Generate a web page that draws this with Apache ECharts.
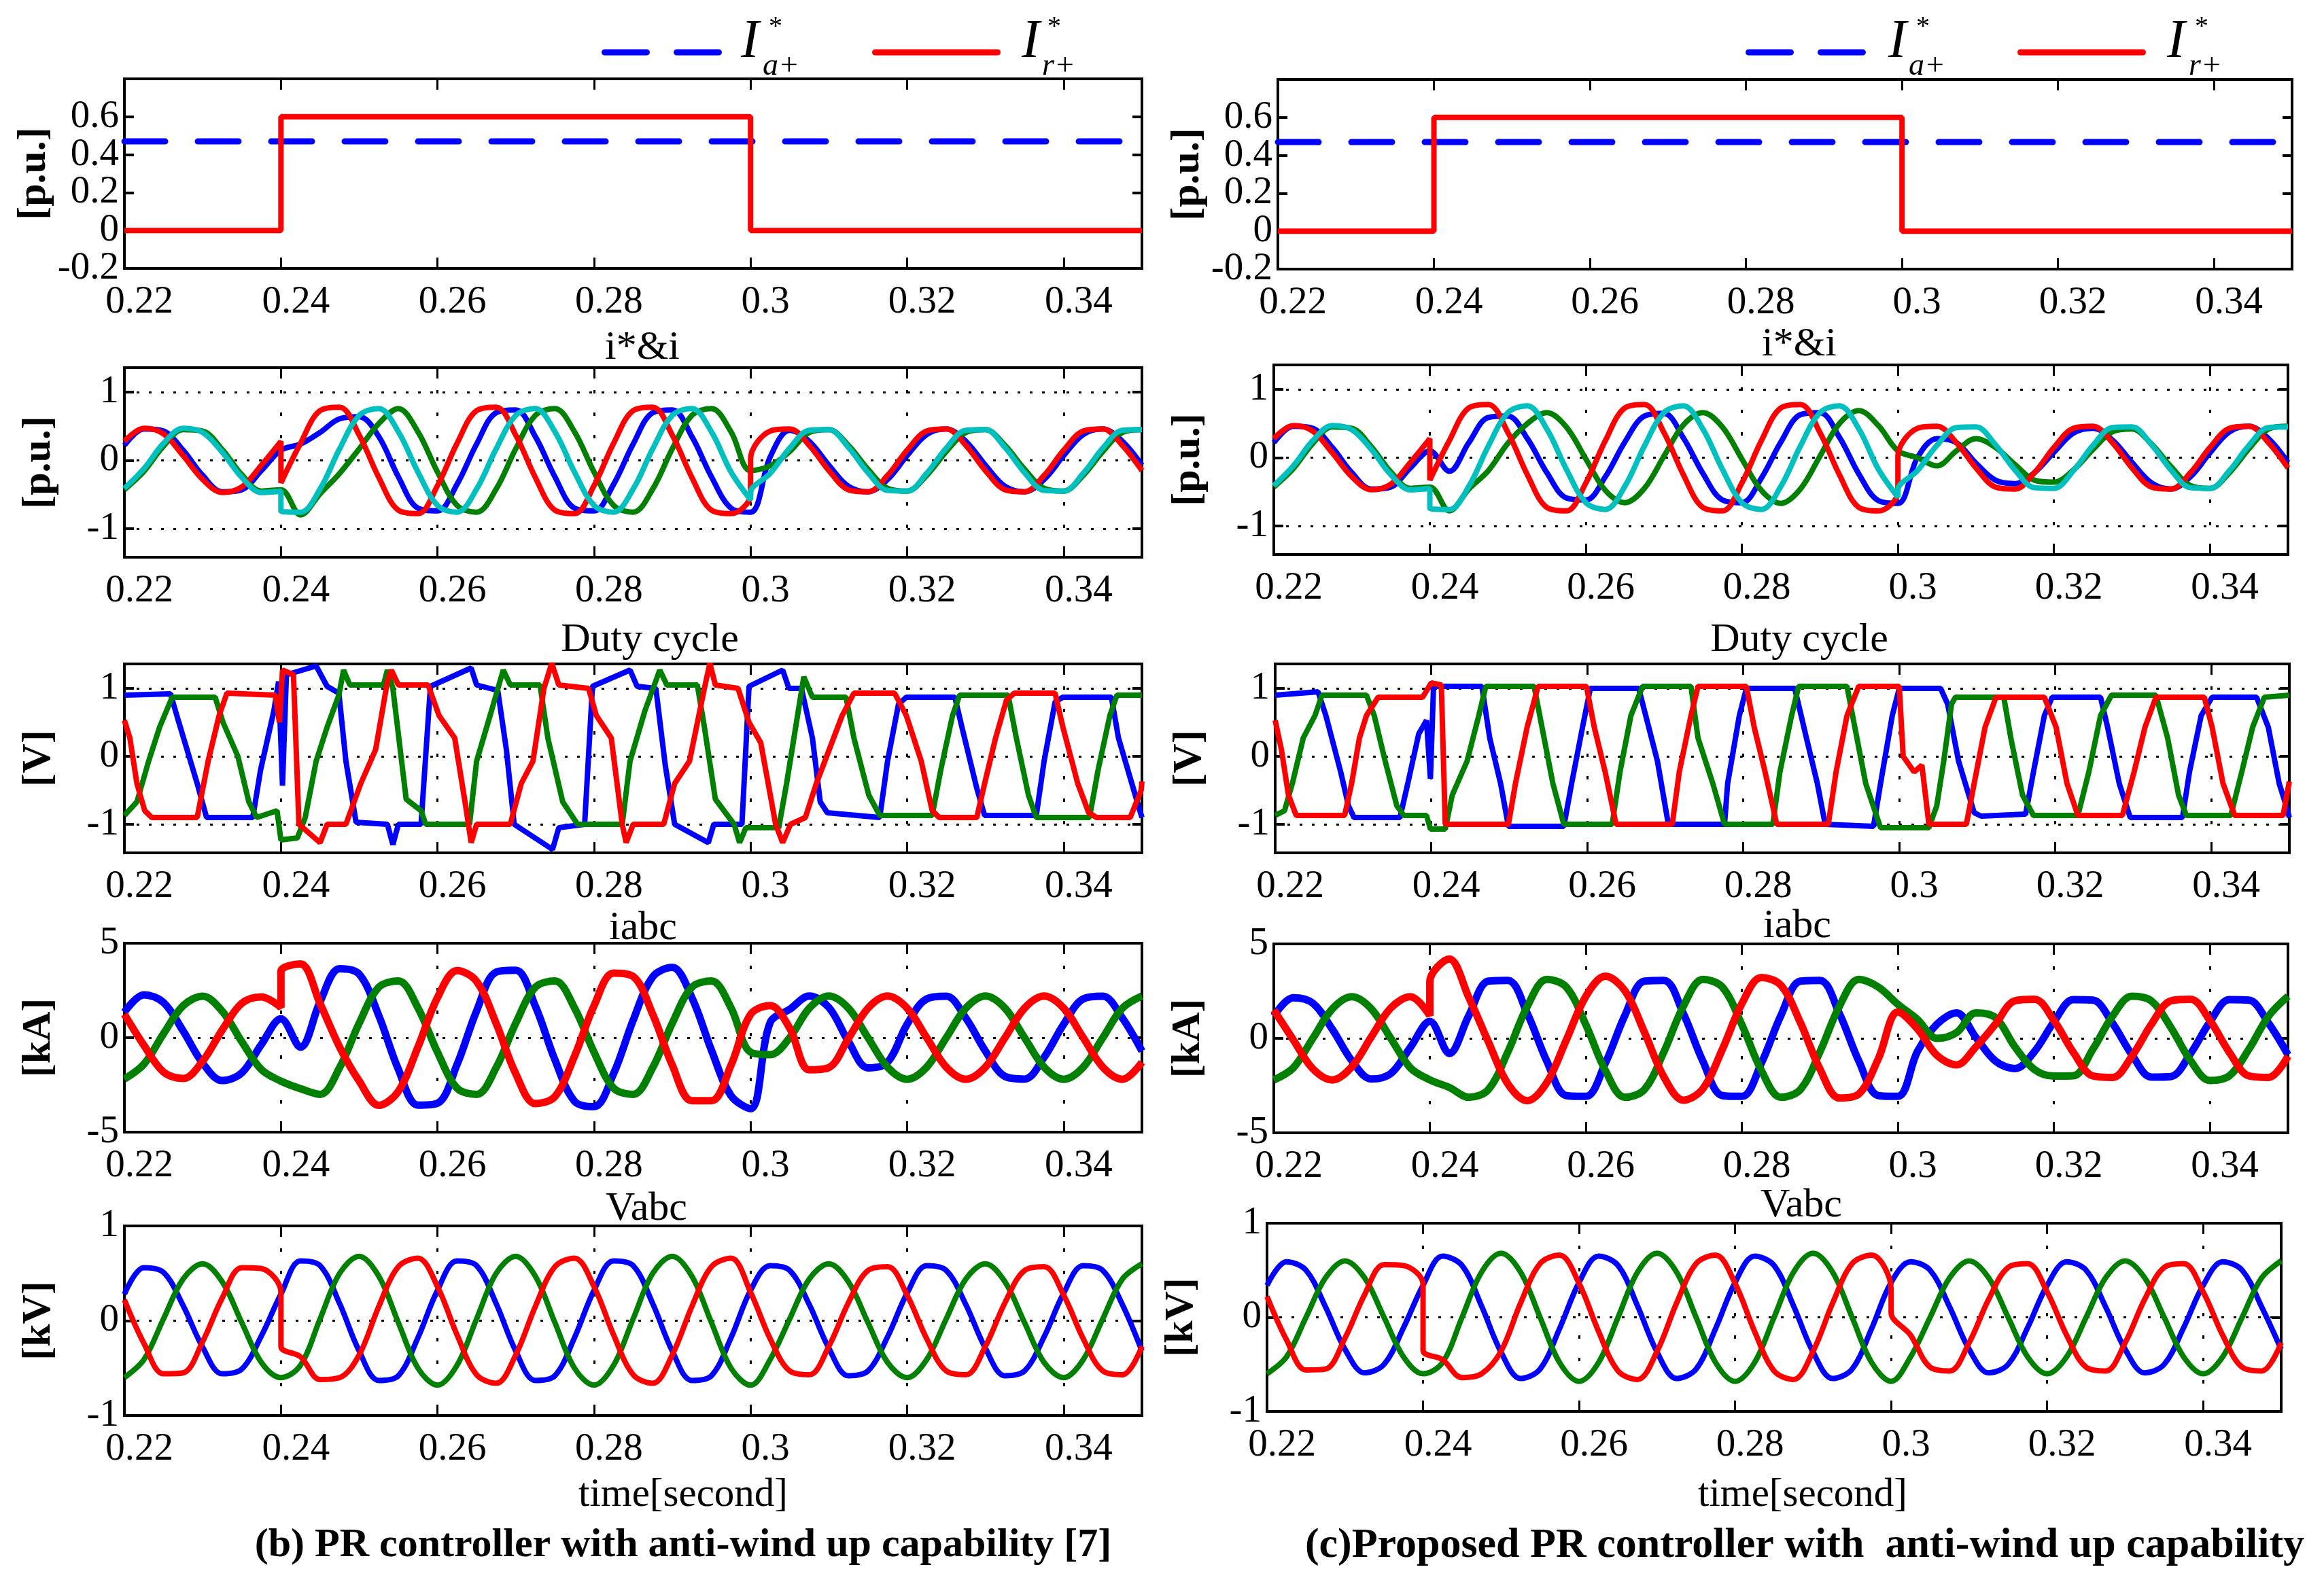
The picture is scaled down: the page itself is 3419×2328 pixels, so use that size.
<!DOCTYPE html>
<html lang="en">
<head>
<meta charset="UTF-8">
<title>PR controller with anti-wind up capability</title>
<script src="https://cdn.jsdelivr.net/npm/echarts@6/dist/echarts.min.js"></script>
<style>
    *{margin:0;padding:0;}
    html,body{width:100%;height:100%;background:#fff;}
    #main{width:3419px;height:2328px;}
</style>
</head>
<body>
<div id="main"></div>
<script>
// common time base (s), 0.24 and 0.30 appear twice for the step changes
var T = [0.22,0.2225,0.225,0.2275,0.23,0.2325,0.235,0.2375,0.24,
    0.24,
    0.2425,0.245,0.2475,0.25,0.2525,0.255,0.2575,0.26,0.2625,0.265,0.2675,0.27,
    0.2725,0.275,0.2775,0.28,0.2825,0.285,0.2875,0.29,0.2925,0.295,0.2975,0.3,
    0.3,
    0.3025,0.305,0.3075,0.31,0.3125,0.315,0.3175,0.32,0.3225,0.325,
    0.3275,0.33,0.3325,0.335,0.3375,0.34,0.3425,0.345,0.3475,0.35];

// references I*a+ / I*r+
var stepT = [0.22,0.24,0.24,0.30,0.30,0.35];
var iaStar = [0.47,0.47,0.47,0.47,0.47,0.47];
var irStar = [0,0,0.6,0.6,0,0];

// i*&i  (references shared by both controllers)
var iRefA = [0.28,0.47,0.39,0.07,-0.28,-0.47,-0.39,-0.07,0.28,
    -0.33,
    0.25,0.73,0.78,0.37,-0.25,-0.73,-0.78,-0.37,
    0.25,0.73,0.78,0.37,-0.25,-0.73,-0.78,-0.37,
    0.25,0.73,0.78,0.37,-0.25,-0.73,-0.78,-0.5,
    0.02,
    0.43,0.46,0.22,-0.15,-0.43,-0.46,-0.22,0.15,0.43,0.46,
    0.22,-0.15,-0.43,-0.46,-0.22,0.15,0.43,0.46,0.22,-0.15];
var iRefB = [-0.41,-0.12,0.25,0.47,0.41,0.12,-0.25,-0.47,-0.45,
    -0.74,
    -0.76,-0.42,0.17,0.66,0.76,0.42,-0.17,-0.66,
    -0.76,-0.42,0.17,0.66,0.76,0.42,-0.17,-0.66,
    -0.76,-0.42,0.17,0.66,0.76,0.42,-0.17,-0.58,
    -0.47,
    -0.19,0.18,0.44,0.45,0.19,-0.18,-0.44,-0.45,-0.19,0.18,
    0.44,0.45,0.19,-0.18,-0.44,-0.45,-0.19,0.18,0.44,0.45];
var iMeasA_b = [0.22,0.46,0.43,0.15,-0.22,-0.46,-0.43,-0.15,0.15,
    0.15,
    0.24,0.41,0.61,0.64,0.35,-0.24,-0.70,-0.74,
    -0.35,0.24,0.70,0.74,0.35,-0.24,-0.70,-0.74,
    -0.35,0.24,0.70,0.74,0.35,-0.24,-0.70,-0.76,
    -0.76,
    0.05,0.44,0.28,-0.07,-0.38,-0.46,-0.28,0.07,0.38,0.46,
    0.28,-0.07,-0.38,-0.46,-0.28,0.07,0.38,0.46,0.28,-0.07];
var iMeasB_b = [-0.43,-0.16,0.21,0.45,0.43,0.16,-0.21,-0.45,-0.43,
    -0.43,
    -0.80,-0.49,-0.19,0.17,0.54,0.76,0.42,-0.17,
    -0.66,-0.76,-0.42,0.17,0.66,0.76,0.42,-0.17,
    -0.66,-0.76,-0.42,0.17,0.66,0.76,0.42,-0.15,
    -0.15,
    -0.08,0.13,0.41,0.45,0.22,-0.13,-0.41,-0.45,-0.22,0.13,
    0.41,0.45,0.22,-0.13,-0.41,-0.45,-0.22,0.13,0.41,0.45];
var iMeasA_c = [0.22,0.46,0.43,0.15,-0.22,-0.46,-0.43,-0.15,0.1,
    0.1,
    -0.2,0.22,0.59,0.61,0.28,-0.22,-0.59,-0.62,
    -0.28,0.23,0.61,0.65,0.29,-0.23,-0.62,-0.66,
    -0.30,0.23,0.63,0.66,0.30,-0.24,-0.63,-0.67,
    -0.67,
    0.0,0.28,0.22,-0.08,-0.33,-0.38,-0.22,0.08,0.36,0.43,
    0.26,-0.07,-0.37,-0.46,-0.28,0.07,0.38,0.46,0.28,-0.07];
var iMeasB_c = [-0.43,-0.16,0.21,0.45,0.43,0.16,-0.21,-0.45,-0.43,
    -0.43,
    -0.78,-0.46,-0.19,0.21,0.50,0.66,0.45,-0.02,
    -0.48,-0.66,-0.45,0.02,0.48,0.66,0.45,-0.02,
    -0.48,-0.67,-0.46,0.02,0.50,0.69,0.47,0.1,
    0.1,
    0.0,-0.12,0.1,0.28,0.15,-0.1,-0.33,-0.36,-0.18,0.12,
    0.38,0.42,0.2,-0.13,-0.41,-0.45,-0.22,0.13,0.42,0.46];

// duty cycle, [t, value] corner points
var dBlueB = [[0.22,0.9],[0.2259,0.92],[0.2267,0.6],[0.2293,-0.4],[0.2305,-0.9],[0.2364,-0.9],[0.2374,-0.2],[0.2391,0.67],[0.2397,1.1],[0.2402,-0.43],[0.2407,1.2],[0.2445,1.33],[0.2459,1.03],[0.2474,0.93],[0.2483,-0.07],[0.2496,-0.97],[0.2536,-1.0],[0.2543,-1.3],[0.255,-1.0],[0.2579,-1.0],[0.2591,1.03],[0.2643,1.3],[0.265,1.05],[0.2677,0.97],[0.2688,0.1],[0.2698,-1.0],[0.2747,-1.37],[0.2755,-1.05],[0.2788,-1.0],[0.2798,1.03],[0.2846,1.27],[0.2855,1.03],[0.2879,1.0],[0.2891,-0.13],[0.2903,-1.0],[0.2946,-1.27],[0.2953,-1.0],[0.2989,-1.0],[0.2998,1.03],[0.3041,1.27],[0.3049,1.0],[0.3065,1.0],[0.3079,0.27],[0.3089,-0.67],[0.3098,-0.83],[0.3165,-0.9],[0.3175,-0.07],[0.3189,0.77],[0.3199,0.87],[0.3261,0.87],[0.327,0.43],[0.3289,-0.47],[0.3299,-0.87],[0.3365,-0.87],[0.3375,-0.07],[0.3389,0.8],[0.3399,0.87],[0.3461,0.87],[0.347,0.27],[0.3494,-0.67],[0.35,-0.9]];
var dGreenB = [[0.22,-0.87],[0.2216,-0.67],[0.2231,-0.07],[0.2245,0.43],[0.2261,0.87],[0.2316,0.87],[0.2326,0.5],[0.2345,0.0],[0.2359,-0.67],[0.2369,-0.9],[0.2395,-0.8],[0.24,-1.23],[0.2421,-1.2],[0.2431,-0.9],[0.2445,-0.07],[0.2459,0.43],[0.2474,0.9],[0.248,1.27],[0.2488,1.05],[0.2531,1.05],[0.2536,1.27],[0.2543,1.0],[0.256,-0.63],[0.2579,-0.8],[0.2585,-1.0],[0.2641,-1.0],[0.265,-0.07],[0.2669,0.67],[0.2684,1.27],[0.2693,1.05],[0.2731,1.05],[0.2741,0.27],[0.276,-0.67],[0.2779,-1.0],[0.2836,-1.0],[0.2846,-0.07],[0.2865,0.67],[0.2884,1.27],[0.2893,1.05],[0.2932,1.05],[0.2941,0.43],[0.2955,-0.63],[0.2979,-1.0],[0.2986,-1.27],[0.2994,-1.05],[0.3036,-1.05],[0.3046,-0.4],[0.306,0.6],[0.3068,1.17],[0.3079,0.87],[0.3122,0.87],[0.3132,0.27],[0.3151,-0.57],[0.3165,-0.87],[0.3232,-0.87],[0.3243,-0.2],[0.3258,0.6],[0.3267,0.9],[0.3329,0.9],[0.3339,0.3],[0.3355,-0.57],[0.3365,-0.9],[0.3433,-0.9],[0.3444,-0.2],[0.3459,0.6],[0.3468,0.9],[0.35,0.9]];
var dRedB = [[0.22,0.53],[0.2207,0.27],[0.2216,-0.4],[0.2226,-0.8],[0.2235,-0.9],[0.2293,-0.9],[0.2307,-0.07],[0.2321,0.6],[0.2331,0.93],[0.2393,0.9],[0.2398,0.5],[0.2402,1.27],[0.2416,1.2],[0.2423,-1.0],[0.245,-1.27],[0.2459,-1.0],[0.2483,-1.0],[0.2502,-0.4],[0.2521,0.1],[0.2536,1.1],[0.2541,1.27],[0.255,1.05],[0.2588,1.05],[0.2602,0.6],[0.2622,0.27],[0.2636,-0.73],[0.2643,-1.27],[0.265,-1.0],[0.2693,-1.0],[0.2707,-0.4],[0.2722,-0.07],[0.2736,1.0],[0.2746,1.37],[0.2755,1.05],[0.2793,1.0],[0.2803,0.6],[0.2822,0.27],[0.2836,-1.0],[0.2841,-1.27],[0.285,-1.0],[0.2889,-1.0],[0.2903,-0.4],[0.2922,-0.07],[0.2941,1.0],[0.2948,1.37],[0.2955,1.05],[0.2984,1.0],[0.2998,0.5],[0.3013,0.2],[0.3032,-1.0],[0.3041,-1.27],[0.3051,-1.0],[0.307,-0.9],[0.3084,-0.4],[0.3117,0.6],[0.3132,0.93],[0.3184,0.93],[0.3199,0.6],[0.3218,-0.07],[0.3232,-0.8],[0.3241,-0.9],[0.3289,-0.9],[0.3299,-0.4],[0.3313,0.27],[0.3327,0.83],[0.3337,0.93],[0.3389,0.93],[0.3399,0.43],[0.3418,-0.4],[0.3432,-0.83],[0.3442,-0.9],[0.3485,-0.9],[0.3499,-0.5],[0.35,-0.37]];
var dBlueC = [[0.22,0.9],[0.2255,0.95],[0.2265,0.6],[0.2284,-0.23],[0.2294,-0.73],[0.2301,-0.9],[0.236,-0.9],[0.237,-0.4],[0.2384,0.33],[0.2394,0.53],[0.2399,-0.33],[0.2403,1.03],[0.2465,1.03],[0.2475,0.27],[0.2489,-0.4],[0.2499,-1.03],[0.257,-1.03],[0.258,-0.4],[0.2594,0.43],[0.2604,1.0],[0.2666,1.0],[0.2675,0.6],[0.269,-0.07],[0.2704,-1.0],[0.2776,-1.0],[0.278,-0.4],[0.2795,0.6],[0.2804,1.0],[0.2866,1.0],[0.2881,0.27],[0.2895,-0.4],[0.2905,-1.0],[0.2967,-1.03],[0.2976,-0.4],[0.2991,0.6],[0.30,1.0],[0.3053,1.0],[0.3062,0.77],[0.3076,-0.07],[0.3096,-0.83],[0.3105,-0.88],[0.3162,-0.85],[0.3172,-0.23],[0.3186,0.6],[0.3196,0.87],[0.3258,0.87],[0.3267,0.43],[0.3282,-0.4],[0.3296,-0.9],[0.3363,-0.9],[0.3372,-0.23],[0.3387,0.6],[0.3401,0.87],[0.3458,0.87],[0.3473,0.43],[0.3487,-0.4],[0.3496,-0.73],[0.35,-0.9]];
var dGreenC = [[0.22,-0.87],[0.2212,-0.8],[0.2222,-0.4],[0.2236,0.27],[0.2251,0.6],[0.226,0.9],[0.2317,0.9],[0.2327,0.6],[0.2341,-0.07],[0.2356,-0.73],[0.2365,-0.87],[0.2394,-0.87],[0.2399,-1.07],[0.2418,-1.07],[0.2427,-0.57],[0.2446,-0.07],[0.2461,0.6],[0.247,1.03],[0.2532,1.03],[0.2542,0.43],[0.2556,-0.4],[0.257,-1.0],[0.2632,-1.0],[0.2642,-0.23],[0.2656,0.6],[0.2671,1.03],[0.2733,1.03],[0.2742,0.27],[0.2761,-0.4],[0.2776,-1.0],[0.2838,-1.0],[0.2847,-0.23],[0.2862,0.6],[0.2871,1.03],[0.2933,1.03],[0.2943,0.43],[0.2957,-0.4],[0.2976,-1.05],[0.3038,-1.05],[0.3048,-0.73],[0.3057,-0.07],[0.3067,0.77],[0.3072,0.87],[0.3134,0.87],[0.3143,0.27],[0.3158,-0.57],[0.3172,-0.87],[0.3229,-0.87],[0.3243,-0.23],[0.3258,0.6],[0.3272,0.9],[0.3329,0.9],[0.3344,0.27],[0.3358,-0.57],[0.3368,-0.87],[0.3425,-0.87],[0.3439,-0.23],[0.3453,0.43],[0.3468,0.87],[0.35,0.9]];
var dRedC = [[0.22,0.53],[0.2208,0.1],[0.2217,-0.57],[0.2227,-0.87],[0.2289,-0.87],[0.2298,-0.4],[0.2308,0.27],[0.2317,0.6],[0.2332,0.87],[0.2389,0.87],[0.24,1.08],[0.2413,1.05],[0.2418,-1.0],[0.2499,-1.0],[0.2508,-0.4],[0.2523,0.43],[0.2537,1.03],[0.2599,1.03],[0.2609,0.43],[0.2623,-0.23],[0.2637,-1.0],[0.2709,-1.0],[0.2718,-0.23],[0.2733,0.6],[0.2742,1.03],[0.2804,1.03],[0.2814,0.43],[0.2828,-0.23],[0.2843,-1.0],[0.2909,-1.0],[0.2919,-0.23],[0.2933,0.6],[0.2948,1.03],[0.30,1.03],[0.3005,0.0],[0.3019,-0.23],[0.3029,-0.13],[0.3038,-1.0],[0.3086,-1.0],[0.3096,-0.4],[0.311,0.43],[0.3124,0.87],[0.3186,0.87],[0.3201,0.43],[0.3215,-0.4],[0.3229,-0.87],[0.3286,-0.87],[0.3301,-0.23],[0.3315,0.43],[0.3329,0.87],[0.3391,0.87],[0.3401,0.43],[0.3415,-0.4],[0.343,-0.87],[0.3492,-0.87],[0.35,-0.37]];

// iabc (kA)
var iaB = [1.35,2.27,1.86,0.36,-1.35,-2.27,-1.86,-0.36,1.0,
    1.0,
    -0.5,1.9,3.65,3.36,1.17,-1.67,-3.57,-3.47,
    -1.42,1.42,3.47,3.57,1.67,-1.17,-3.36,-3.65,
    -1.9,0.92,3.22,3.72,2.12,-0.66,-3.07,-3.76,
    -3.76,
    0.8,1.5,2.2,1.6,-0.2,-1.6,-1.3,0.71,2.05,2.19,
    1.04,-0.71,-2.05,-2.19,-1.04,0.71,2.05,2.19,1.04,-0.71];
var ibB = [-2.19,-1.40,0.21,1.69,2.19,1.40,-0.21,-1.69,-2.3,
    -2.3,
    -2.7,-3.0,-1.58,0.77,2.67,3.0,1.58,-0.77,
    -2.67,-3.0,-1.58,0.77,2.67,3.0,1.58,-0.77,
    -2.67,-3.0,-1.58,0.77,2.67,3.0,1.58,-0.77,
    -0.77,
    -0.9,0,1.56,2.2,1.56,0,-1.56,-2.2,-1.56,0,
    1.56,2.2,1.56,0,-1.56,-2.2,-1.56,0,1.56,2.2];
var icB = [1.24,-0.41,-1.82,-2.16,-1.24,0.41,1.82,2.16,1.6,
    3.5,
    3.9,1.8,-0.5,-2.3,-3.58,-2.84,-0.5,2.12,
    3.55,2.98,0.75,-1.91,-3.49,-3.12,-0.99,1.69,
    3.42,3.24,1.23,-1.46,-3.34,-3.34,-1.46,1.23,
    1.23,
    1.7,0.5,-1.7,-1.58,-0.04,1.56,2.2,1.56,0,-1.56,
    -2.2,-1.56,0,1.56,2.2,1.56,0,-1.56,-2.2,-1.3];
var iaC = [1.18,2.15,1.86,0.48,-1.18,-2.15,-1.86,-0.48,0.9,
    0.9,
    -0.8,1.21,3.03,3.07,1.31,-1.21,-3.03,-3.07,
    -1.31,1.21,3.03,3.07,1.31,-1.21,-3.03,-3.07,
    -1.31,1.21,3.03,3.07,1.31,-1.21,-3.03,-3.07,
    -3.07,
    -0.7,0.75,1.35,0.05,-1.2,-1.6,-0.7,0.87,2.05,2.02,
    0.81,-0.87,-2.05,-2.02,-0.81,0.87,2.05,2.02,0.81,-0.87];
var ibC = [-2.2,-1.56,0,1.56,2.2,1.56,0,-1.56,-2.2,
    -2.2,
    -2.6,-3.12,-2.71,-0.72,1.70,3.12,2.71,0.72,
    -1.70,-3.12,-2.71,-0.72,1.70,3.12,2.71,0.72,
    -1.70,-3.12,-2.71,-0.72,1.70,3.12,2.71,1.8,
    1.8,
    1.0,0.0,0.3,1.35,1.1,-0.45,-1.65,-2.0,-1.98,-0.57,
    1.17,2.23,1.98,0.57,-1.17,-2.23,-1.98,-0.57,1.17,2.23];
var icC = [1.50,-0.08,-1.61,-2.2,-1.50,0.08,1.61,2.2,1.2,
    3.0,
    4.2,2.16,-0.18,-2.41,-3.3,-2.34,-0.08,2.23,
    3.29,2.52,0.33,-2.04,-3.27,-2.67,-0.58,1.84,
    3.22,2.81,0.83,-1.62,-3.16,-2.94,-1.07,1.39,
    1.39,
    0.5,-0.9,-1.4,-0.45,0.75,1.99,2.07,0.94,-0.75,-1.99,
    -2.07,-0.94,0.75,1.99,2.07,0.94,-0.75,-1.99,-2.07,-0.94];

// Vabc (kV)
var vaB = [0.28,0.56,0.51,0.16,-0.28,-0.56,-0.51,-0.16,0.28,
    0.28,
    0.63,0.58,0.18,-0.32,-0.63,-0.58,-0.18,0.32,
    0.63,0.58,0.18,-0.32,-0.63,-0.58,-0.18,0.32,
    0.63,0.58,0.18,-0.32,-0.63,-0.58,-0.18,0.32,
    0.32,
    0.58,0.53,0.17,-0.29,-0.58,-0.53,-0.17,0.29,0.58,0.53,
    0.17,-0.29,-0.58,-0.53,-0.17,0.29,0.58,0.53,0.17,-0.32];
var vbB = [-0.6,-0.41,0.02,0.44,0.6,0.41,-0.02,-0.44,-0.6,
    -0.6,
    -0.47,0.02,0.50,0.68,0.47,-0.02,-0.50,-0.68,
    -0.47,0.02,0.50,0.68,0.47,-0.02,-0.50,-0.68,
    -0.47,0.02,0.50,0.68,0.47,-0.02,-0.50,-0.68,
    -0.68,
    -0.41,0.02,0.44,0.6,0.41,-0.02,-0.44,-0.6,-0.41,0.02,
    0.44,0.6,0.41,-0.02,-0.44,-0.6,-0.41,0.02,0.44,0.6];
var vcB = [0.22,-0.24,-0.56,-0.55,-0.22,0.24,0.56,0.55,0.3,
    -0.27,
    -0.38,-0.62,-0.6,-0.36,0.15,0.57,0.66,0.36,
    -0.15,-0.57,-0.66,-0.36,0.15,0.57,0.66,0.36,
    -0.15,-0.57,-0.66,-0.36,0.15,0.57,0.66,0.3,
    0.3,
    -0.19,-0.53,-0.57,-0.27,0.19,0.53,0.57,0.27,-0.19,-0.53,
    -0.57,-0.27,0.19,0.53,0.57,0.27,-0.19,-0.53,-0.57,-0.27];
var vaC = [0.34,0.59,0.50,0.11,-0.34,-0.59,-0.50,-0.11,0.34,
    0.34,
    0.65,0.55,0.12,-0.37,-0.65,-0.55,-0.12,0.37,
    0.65,0.55,0.12,-0.37,-0.65,-0.55,-0.12,0.37,
    0.65,0.55,0.12,-0.37,-0.65,-0.55,-0.12,0.37,
    0.37,
    0.59,0.50,0.11,-0.34,-0.59,-0.50,-0.11,0.34,0.59,0.50,
    0.11,-0.34,-0.59,-0.50,-0.11,0.34,0.59,0.50,0.11,-0.34];
var vbC = [-0.6,-0.42,0,0.42,0.6,0.42,0,-0.42,-0.6,
    -0.6,
    -0.48,0,0.48,0.68,0.48,0,-0.48,-0.68,
    -0.48,0,0.48,0.68,0.48,0,-0.48,-0.68,
    -0.48,0,0.48,0.68,0.48,0,-0.48,-0.68,
    -0.68,
    -0.42,0,0.42,0.6,0.42,0,-0.42,-0.6,-0.42,0,
    0.42,0.6,0.42,0,-0.42,-0.6,-0.42,0,0.42,0.6];
var vcC = [0.22,-0.24,-0.56,-0.55,-0.22,0.24,0.56,0.55,0.35,
    -0.35,
    -0.45,-0.64,-0.6,-0.36,0.15,0.57,0.66,0.36,
    -0.15,-0.57,-0.66,-0.36,0.15,0.57,0.66,0.36,
    -0.15,-0.57,-0.66,-0.36,0.15,0.57,0.66,0.3,
    0.05,
    -0.19,-0.53,-0.57,-0.27,0.19,0.53,0.57,0.27,-0.19,-0.53,
    -0.57,-0.27,0.19,0.53,0.57,0.27,-0.19,-0.53,-0.57,-0.27];

// axis ranges / ticks / labels per row (row 1 uses a regular 0.2 interval)
var rowMin = [-0.2,-1.42,-1.42,-5,-1];
var rowMax = [0.8,1.36,1.36,5,1];
var rowTicks = [null,[-1,0,1],[-1,0,1],[-5,0,5],[-1,0,1]];
var rowUnits = ['[p.u.]','[p.u.]','[V]','[kA]','[kV]'];
var panelTitles = ['i*&i','Duty cycle','iabc','Vabc'];
var xName = 'time[second]';
var captions = ['(b) PR controller with anti-wind up capability [7]','(c)Proposed PR controller with  anti-wind up capability'];

var FONT = '"Liberation Serif", "Times New Roman", serif';
var BLUE = '#0000ff', GREEN = '#008000', RED = '#ff0000', CYAN = '#00bfbf';

// plot boxes [left, top, width, height], left column then right column
var boxes = [
    [183,116,1497,279],[183,541,1497,279],[183,977,1497,278],[183,1388,1497,278],[183,1804,1497,279],
    [1880,117,1492,279],[1874,537,1492,279],[1876,977,1492,278],[1874,1389,1492,278],[1864,1800,1492,277]
];
// line width per row (the current traces carry a wide noise band)
var rowWidth = [8,8,8,11,8];

function zip(t, v){
    return t.map(function(x, i){ return [x, v[i]]; });
}

// waveforms per panel: [data, colour, smooth]
var panels = [
    null,
    [[zip(T,iMeasA_b),BLUE,true],[zip(T,iMeasB_b),GREEN,true],[zip(T,iRefA),RED,true],[zip(T,iRefB),CYAN,true]],
    [[dBlueB,BLUE,false],[dGreenB,GREEN,false],[dRedB,RED,false]],
    [[zip(T,iaB),BLUE,true],[zip(T,ibB),GREEN,true],[zip(T,icB),RED,true]],
    [[zip(T,vaB),BLUE,true],[zip(T,vbB),GREEN,true],[zip(T,vcB),RED,true]],
    null,
    [[zip(T,iMeasA_c),BLUE,true],[zip(T,iMeasB_c),GREEN,true],[zip(T,iRefA),RED,true],[zip(T,iRefB),CYAN,true]],
    [[dBlueC,BLUE,false],[dGreenC,GREEN,false],[dRedC,RED,false]],
    [[zip(T,iaC),BLUE,true],[zip(T,ibC),GREEN,true],[zip(T,icC),RED,true]],
    [[zip(T,vaC),BLUE,true],[zip(T,vbC),GREEN,true],[zip(T,vcC),RED,true]]
];

var grids = [], xAxes = [], yAxes = [], extraY = [], series = [];
var noLine = {show:false, onZero:false};
function yLabelStyle(){
    return {color:'#000', fontFamily:FONT, fontSize:57, lineHeight:38, margin:8,
        showMinLabel:true, showMaxLabel:true};
}
boxes.forEach(function(b, g){
    var r = g % 5;
    grids.push({left:b[0], top:b[1], width:b[2], height:b[3], show:true,
        borderColor:'#000', borderWidth:4, backgroundColor:'#fff'});
    var tick = {inside:true, length:16, lineStyle:{color:'#000', width:3}};
    xAxes.push({gridIndex:g, type:'value', min:0.22, max:0.35, interval:0.02, position:'bottom',
        axisLine:noLine, axisTick:tick,
        axisLabel:{color:'#000', fontFamily:FONT, fontSize:57, margin:22,
            showMaxLabel:false, padding:[0,0,0,44]},
        splitLine:{show:r > 0, lineStyle:{color:'#000', width:3, type:[5,28]}}});
    xAxes.push({gridIndex:g, type:'value', min:0.22, max:0.35, interval:0.02, position:'top',
        axisLine:noLine, axisTick:tick, axisLabel:{show:false}, splitLine:{show:false}});

    var ytick = {inside:true, length:14, lineStyle:{color:'#000', width:4}};
    var ylabel = yLabelStyle();
    var yBase = {gridIndex:g, type:'value', min:rowMin[r], max:rowMax[r]};
    if (rowTicks[r]) {
        ytick.customValues = rowTicks[r];
        ylabel.customValues = rowTicks[r];
    } else {
        // the 0 label of the top panel is carried by a companion axis (below)
        yBase.interval = 0.2;
        ylabel.formatter = function(v){
            return (v > 0.7 || Math.abs(v) < 1e-9) ? '' : String(Math.round(v * 10) / 10);
        };
        var zeroLabel = yLabelStyle();
        zeroLabel.customValues = [0];
        extraY.push({gridIndex:g, type:'value', min:rowMin[r], max:rowMax[r], position:'left',
            axisLine:noLine, axisTick:{show:false}, axisLabel:zeroLabel, splitLine:{show:false}});
    }
    yAxes.push(Object.assign({}, yBase, {position:'left',
        name:rowUnits[r], nameLocation:'middle', nameGap:96, nameRotate:90,
        nameTextStyle:{color:'#000', fontFamily:FONT, fontWeight:'bold', fontSize:60},
        axisLine:noLine, axisTick:ytick, axisLabel:ylabel, splitLine:{show:false}}));
    yAxes.push(Object.assign({}, yBase, {position:'right',
        axisLine:noLine, axisTick:ytick, axisLabel:{show:false}, splitLine:{show:false}}));

    if (r === 0) {
        series.push({type:'line', name:'Ia+', xAxisIndex:2*g, yAxisIndex:2*g,
            data:zip(stepT, iaStar), symbol:'none',
            lineStyle:{color:BLUE, width:9, type:[60,48], cap:'round'}, itemStyle:{color:BLUE}});
        series.push({type:'line', name:'Ir+', xAxisIndex:2*g, yAxisIndex:2*g,
            data:zip(stepT, irStar), symbol:'none',
            lineStyle:{color:RED, width:8}, itemStyle:{color:RED}});
        return;
    }
    panels[g].forEach(function(p, k){
        var s = {type:'line', xAxisIndex:2*g, yAxisIndex:2*g, data:p[0], symbol:'none',
            smooth:p[2] ? 0.35 : false,
            lineStyle:{color:p[1], width:rowWidth[r]}, itemStyle:{color:p[1]}, z:3 + k};
        if (k === 0) {
            s.markLine = {silent:true, symbol:['none','none'], z:1, label:{show:false},
                lineStyle:{color:'#000', width:3, type:[4,14]},
                data:rowTicks[r].map(function(v){ return {yAxis:v}; })};
        }
        series.push(s);
    });
});
yAxes = yAxes.concat(extraY);

function txt(text, x, y, font, align){
    return {type:'text', silent:true, style:{text:text, x:x, y:y, fill:'#000', font:font,
        textAlign:align || 'center', align:align || 'center',
        textVerticalAlign:'middle', verticalAlign:'middle'}};
}

var titlePos = [[945,512],[956,942],[946,1366],[951,1779],[2647,507],[2647,942],[2644,1363],[2650,1774]];
var graphics = [];
titlePos.forEach(function(p, i){
    graphics.push(txt(panelTitles[i % 4], p[0], p[1], '60px ' + FONT));
});
graphics.push(txt(xName, 1005, 2200, '59px ' + FONT));
graphics.push(txt(xName, 2652, 2200, '59px ' + FONT));
graphics.push(txt(captions[0], 1005, 2274, 'bold 60px ' + FONT));
graphics.push(txt(captions[1], 2655, 2275, 'bold 62px ' + FONT));
// legend labels I*a+ and I*r+
[[1090,1122,1131,'a+'],[1503,1533,1541,'r+'],[2778,2808,2819,'a+'],[3188,3220,3229,'r+']].forEach(function(q){
    graphics.push(txt('I', q[0], 63, 'italic 80px ' + FONT, 'left'));
    graphics.push(txt(q[3], q[1], 98, 'italic 46px ' + FONT, 'left'));
    graphics.push(txt('*', q[2], 40, '40px ' + FONT, 'left'));
});

function legendAt(name, left){
    return {data:[name], left:left, top:67, padding:0, itemWidth:180, itemHeight:20,
        selectedMode:false, formatter:function(){ return ''; },
        itemStyle:{color:'rgba(0,0,0,0)', borderWidth:0, opacity:0},
        lineStyle:{width:9, type:name === 'Ia+' ? [62,44] : 'solid', cap:'round'},
        textStyle:{fontSize:12}};
}

var chart = echarts.init(document.getElementById('main'));
chart.setOption({
    backgroundColor:'#fff',
    animation:false,
    legend:[legendAt('Ia+',885), legendAt('Ir+',1283), legendAt('Ia+',2568), legendAt('Ir+',2968)],
    grid:grids,
    xAxis:xAxes,
    yAxis:yAxes,
    series:series,
    graphic:graphics
});
window.onresize = chart.resize;
</script>
</body>
</html>
